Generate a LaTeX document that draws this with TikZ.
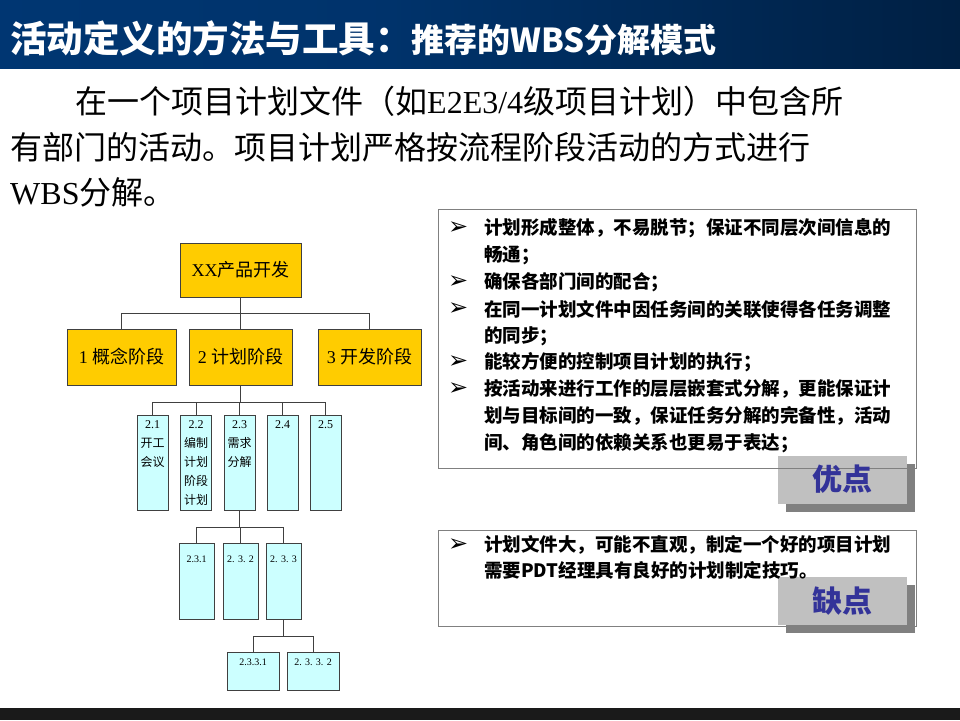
\documentclass[tikz,border=0pt]{standalone}
\usepackage{fontspec}
\setmainfont{Liberation Serif}
\newfontfamily\cjk{Noto Sans CJK SC}
\newfontfamily\symf{DejaVu Sans}
\definecolor{tb}{RGB}{0,58,122}
\definecolor{gold}{RGB}{255,204,0}
\definecolor{cyanfill}{RGB}{204,255,255}
\definecolor{lblgray}{RGB}{192,192,192}
\definecolor{shadowgray}{RGB}{128,128,128}
\definecolor{lblblue}{RGB}{51,51,153}
\definecolor{bottombar}{RGB}{26,26,26}
\pgfdeclarehorizontalshading{titleshade}{100bp}{color(0bp)=(tb); color(45bp)=(tb!88!black); color(75bp)=(tb!55!black); color(92bp)=(tb!10!black); color(97bp)=(black); color(100bp)=(black)}
\begin{document}
\begin{tikzpicture}[x=1pt,y=-1pt,
  conn/.style={draw=black!75, line width=1pt},
  goldbox/.style={draw=black!75, fill=gold, line width=1pt, inner sep=0pt, font=\fontsize{18}{20}\selectfont},
  cyanbox/.style={draw=black!75, fill=cyanfill, line width=1pt, inner sep=0pt},
  boxtxt/.style={inner sep=0pt, align=center, anchor=north},
  bodyline/.style={anchor=west, inner sep=0pt, font=\fontsize{32}{36}\selectfont},
  bullettxt/.style={anchor=west, inner sep=0pt, font=\cjk\bfseries\fontsize{18.5}{20}\selectfont},
  bulletmark/.style={anchor=west, inner sep=0pt, font=\symf\fontsize{24}{26}\selectfont},
  infobox/.style={draw=shadowgray, line width=1pt, inner sep=0pt},
  lblbox/.style={fill=lblgray, inner sep=0pt, minimum width=129pt, minimum height=48pt},
  lblshadow/.style={fill=shadowgray, inner sep=0pt, minimum width=129pt, minimum height=48pt},
  lbltxt/.style={inner sep=0pt, text=lblblue, font=\cjk\bfseries\fontsize{30}{32}\selectfont}
]
\useasboundingbox (0,0) rectangle (960,720);
% title bar
\shade[shading=titleshade] (0,0) rectangle (960,68);
\node[anchor=west, inner sep=0pt, text=white, font=\cjk\bfseries\fontsize{36.5}{40}\selectfont] (title) at (10,38) {活动定义的方法与工具：{\fontsize{33}{36}\selectfont 推荐的WBS分解模式}};
% bottom bar
\fill[bottombar] (0,708) rectangle (960,720);

% body text
\node[bodyline] (l1) at (75,101) {{\cjk 在一个项目计划文件（如}E2E3/4{\cjk 级项目计划）中包含所}};
\node[bodyline] (l2) at (10,147) {{\cjk 有部门的活动。项目计划严格按流程阶段活动的方式进行}};
\node[bodyline] (l3) at (10,192) {WBS{\cjk 分解。}};

% tree
\coordinate (j1) at (0,313);
\coordinate (j2) at (0,402);
\coordinate (j3) at (0,527);
\coordinate (j4) at (0,636);

\node[goldbox, minimum width=121pt, minimum height=54pt] (xx) at (240.5,270) {XX{\cjk 产品开发}};
\node[goldbox, minimum width=109pt, minimum height=56pt] (p1) at (121.5,357) {1 {\cjk 概念阶段}};
\node[goldbox, minimum width=103pt, minimum height=56pt] (p2) at (240.5,357) {2 {\cjk 计划阶段}};
\node[goldbox, minimum width=103pt, minimum height=56pt] (p3) at (369.5,357) {3 {\cjk 开发阶段}};

\draw[conn] (xx.south) -- (xx.south |- j1);
\draw[conn] (p1.north) |- (p3.north |- j1) -- (p3.north);
\draw[conn] (p2.north) -- (p2.north |- j1);

\foreach \n/\x in {b21/152.5, b22/196, b23/239.5, b24/282.5, b25/325.5}{
  \node[cyanbox, minimum width=31pt, minimum height=95pt] (\n) at (\x,462.5) {};
}
\draw[conn] (p2.south) -- (p2.south |- j2);
\draw[conn] (b21.north) |- (b25.north |- j2) -- (b25.north);
\draw[conn] (b22.north) -- (b22.north |- j2);
\draw[conn] (b23.north) -- (b23.north |- j2);
\draw[conn] (b24.north) -- (b24.north |- j2);

\begin{scope}[every node/.append style={font=\fontsize{12}{19}\selectfont}]
\node[boxtxt] (t21) at ([yshift=-6pt]b21.north) {2.1\\{\cjk 开工}\\{\cjk 会议}};
\node[boxtxt] (t22) at ([yshift=-6pt]b22.north) {2.2\\{\cjk 编制}\\{\cjk 计划}\\{\cjk 阶段}\\{\cjk 计划}};
\node[boxtxt] (t23) at ([yshift=-6pt]b23.north) {2.3\\{\cjk 需求}\\{\cjk 分解}};
\node[boxtxt] (t24) at ([yshift=-6pt]b24.north) {2.4};
\node[boxtxt] (t25) at ([yshift=-6pt]b25.north) {2.5};
\end{scope}

\foreach \n/\x in {c1/196.5, c2/240.5, c3/283.5}{
  \node[cyanbox, minimum width=35pt, minimum height=76pt] (\n) at (\x,581) {};
}
\draw[conn] (b23.south) -- (b23.south |- j3);
\draw[conn] (c1.north) |- (c3.north |- j3) -- (c3.north);
\draw[conn] (c2.north) -- (c2.north |- j3);
\begin{scope}[every node/.append style={font=\fontsize{10}{12}\selectfont}]
\node[boxtxt] (tc1) at ([yshift=-13pt]c1.north) {2.3.1};
\node[boxtxt] (tc2) at ([yshift=-13pt]c2.north) {2. 3. 2};
\node[boxtxt] (tc3) at ([yshift=-13pt]c3.north) {2. 3. 3};
\end{scope}

\node[cyanbox, minimum width=52pt, minimum height=38pt] (d1) at (253,671) {};
\node[cyanbox, minimum width=52pt, minimum height=38pt] (d2) at (313,671) {};
\draw[conn] (c3.south) -- (c3.south |- j4);
\draw[conn] (d1.north) |- (d2.north |- j4) -- (d2.north);
\begin{scope}[every node/.append style={font=\fontsize{10}{12}\selectfont}]
\node[boxtxt] (td1) at ([yshift=-7pt]d1.north) {2.3.3.1};
\node[boxtxt] (td2) at ([yshift=-7pt]d2.north) {2. 3. 3. 2};
\end{scope}

% advantages box
\node[lblshadow] (advsh) at (850.5,487.5) {};
\node[lblbox] (advlbl) at (842.5,479.5) {};
\node[infobox, minimum width=478pt, minimum height=259pt] (adv) at (677,338.5) {};
\node[lbltxt] (advt) at (advlbl.center) {优点};

\foreach \y in {228,282,309,362,389}{
  \node[bulletmark] at (448,\y) {➢};
}
\node[bullettxt] (a1) at (484,228) {计划形成整体，不易脱节；保证不同层次间信息的};
\node[bullettxt] (a1b) at (484,255) {畅通；};
\node[bullettxt] (a2) at (484,282) {确保各部门间的配合；};
\node[bullettxt] (a3) at (484,309) {在同一计划文件中因任务间的关联使得各任务调整};
\node[bullettxt] (a3b) at (484,336) {的同步；};
\node[bullettxt] (a4) at (484,362) {能较方便的控制项目计划的执行；};
\node[bullettxt] (a5) at (484,389) {按活动来进行工作的层层嵌套式分解，更能保证计};
\node[bullettxt] (a5b) at (484,416) {划与目标间的一致，保证任务分解的完备性，活动};
\node[bullettxt] (a5c) at (484,443) {间、角色间的依赖关系也更易于表达；};

% disadvantages box
\node[infobox, minimum width=478pt, minimum height=96pt] (dis) at (677,578) {};
\node[lblshadow] (dissh) at (850.5,609) {};
\node[lblbox] (dislbl) at (842.5,601) {};
\node[lbltxt] (dist) at (dislbl.center) {缺点};
\node[bulletmark] at (448,545) {➢};
\node[bullettxt] (d1t) at (484,545) {计划文件大，可能不直观，制定一个好的项目计划};
\node[bullettxt] (d2t) at (484,570) {需要PDT经理具有良好的计划制定技巧。};
\end{tikzpicture}
\end{document}
